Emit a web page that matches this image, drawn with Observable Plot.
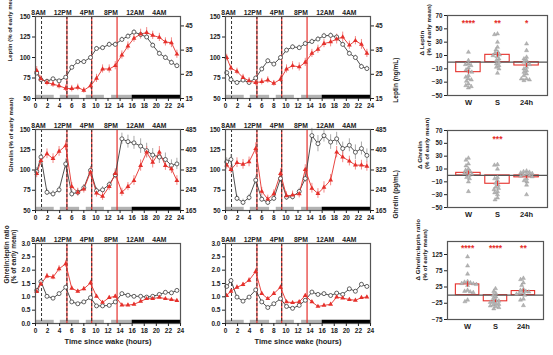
<!DOCTYPE html>
<html><head><meta charset="utf-8">
<script src="https://cdn.jsdelivr.net/npm/d3@7"></script>
<script src="https://cdn.jsdelivr.net/npm/@observablehq/plot@0.6"></script>
<style>
body{margin:0;background:#fff;}
#fig{position:relative;width:553px;height:355px;overflow:hidden;}
</style></head><body><div id="fig"></div>
<script>
// ---- shared time axis ----
const hours = [0.2, 0.9, 1.9, 2.9, 3.9, 5.0, 6.0, 7.0, 8.0, 9.1, 10.1, 11.1, 12.2, 13.2, 14.3, 15.3, 16.3, 17.4, 18.4, 19.4, 20.5, 21.5, 22.5, 23.4];
const clockLabels = ["8AM", "12PM", "4PM", "8PM", "12AM", "4AM"];
const clockHours = [0.5, 4.5, 8.5, 12.5, 16.5, 20.5];
const mealLines = [5.2, 9.3, 13.5];
const dashedLines = [1.0, 5.2, 9.3];
const blockStart = [0.1, 4.1, 8.4, 12.6, 16];
const blockEnd = [3.1, 7.3, 11.4, 16, 24];
const blockKind = ["wake", "wake", "wake", "wake", "sleep"];

// ---- leptin (% of early mean) ----
const leptinBlkA = [81, 73, 71, 74, 71.5, 76, 88, 95, 95, 100, 111, 112, 116, 116, 122, 126, 131, 128, 125, 115, 105, 100, 94, 90];
const leptinBlkErrA = [2, 2, 2, 2, 2, 2, 2.5, 2.5, 2.5, 2.5, 2.5, 2.5, 3, 3, 3, 3, 3, 3, 3, 3, 3, 3, 3, 3];
const leptinRedA = [84, 74, 69.5, 67.5, 65.5, 62.5, 62, 63.5, 60, 65.5, 74.5, 86, 86, 90, 103, 114, 123.5, 128.5, 130.5, 127, 124.5, 119, 118, 104];
const leptinRedErrA = [5, 4, 4, 4, 4, 4, 4, 4, 3.5, 4, 5, 5, 5, 5, 5, 5, 5, 6, 6, 5, 5, 5, 6, 5];
const leptinBlkB = [81.5, 73, 69.5, 72.5, 69.5, 75, 86, 96, 92, 100, 109, 113, 112, 117, 119.5, 122.5, 126.5, 127, 125, 116, 105, 100, 89, 86.5];
const leptinBlkErrB = [2, 2, 2, 2, 2, 2, 2.5, 2.5, 2.5, 2.5, 2.5, 2.5, 3, 3, 3, 3, 3, 3, 3, 3, 3, 3, 3, 3];
const leptinRedB = [100, 87, 83, 75.5, 71.5, 69.5, 70.5, 72.5, 68.5, 73.5, 86, 90, 88.5, 94, 105, 110, 117, 119, 122.5, 125, 115, 120.5, 116, 105];
const leptinRedErrB = [4, 4, 4, 4, 4, 4, 4, 4, 3.5, 4, 5, 5, 5, 5, 5, 5, 5, 6, 6, 6, 5, 5, 6, 5];
const leptinTicks = [50, 75, 100, 125, 150];
const leptinNgTicks = [15, 25, 35, 45];
const leptinNgExtent = [15, 48.9];

// ---- ghrelin (% of early mean) ----
const ghrelinBlkD = [98, 116, 72.5, 70.5, 75.5, 107.5, 70.5, 72.5, 78, 99.5, 74.5, 75.5, 82, 94, 138.5, 135, 133.5, 129.5, 124, 118.5, 116, 113, 105.5, 107.5];
const ghrelinBlkErrD = [5, 6, 4, 4, 4, 6, 4, 4, 4, 5, 4, 4, 4, 5, 7, 8, 8, 9, 9, 8, 8, 8, 7, 7];
const ghrelinRedD = [95.5, 111.5, 120, 114, 123, 130, 79.5, 72.5, 76.5, 97.5, 71.5, 67.5, 79.5, 95.5, 72.5, 79.5, 87, 105.5, 122, 109.5, 122, 105.5, 101.5, 87];
const ghrelinRedErrD = [5, 6, 6, 6, 6, 6, 5, 5, 5, 6, 5, 5, 5, 6, 5, 5, 6, 7, 7, 7, 7, 6, 6, 6];
const ghrelinBlkE = [110, 113, 65, 60, 66, 87.5, 64, 60, 65, 89.5, 66.5, 67, 73.5, 89.5, 142.5, 132.5, 142.5, 134.5, 138.5, 126.5, 130.5, 122, 126.5, 118];
const ghrelinBlkErrE = [5, 6, 4, 4, 4, 5, 4, 4, 4, 5, 4, 4, 4, 5, 9, 10, 8, 9, 8, 8, 8, 9, 8, 8];
const ghrelinRedE = [106, 100.5, 109, 107, 110, 126.5, 73.5, 64, 70.5, 95.5, 68, 69, 70.5, 100.5, 77.5, 71, 78.5, 87.5, 122, 116, 111, 106, 106, 104.5];
const ghrelinRedErrE = [5, 5, 6, 6, 6, 7, 5, 5, 5, 6, 5, 5, 5, 6, 6, 6, 7, 7, 7, 7, 6, 6, 6, 6];
const ghrelinTicks = [50, 75, 100, 125, 150];
const ghrelinPgTicks = [165, 245, 325, 405, 485];
const ghrelinPgExtent = [165, 485];

// ---- ghrelin:leptin ratio ----
const ratioBlkG = [1.24, 1.57, 1.02, 0.95, 1.12, 1.36, 0.81, 0.74, 0.81, 0.97, 0.66, 0.66, 0.68, 0.81, 1.12, 1.06, 1.02, 1.02, 0.99, 1.02, 1.09, 1.17, 1.15, 1.24];
const ratioBlkErrG = [0.06, 0.08, 0.05, 0.05, 0.05, 0.07, 0.04, 0.04, 0.04, 0.05, 0.04, 0.04, 0.04, 0.05, 0.05, 0.05, 0.05, 0.05, 0.05, 0.05, 0.05, 0.06, 0.06, 0.06];
const ratioRedG = [1.2, 1.49, 1.78, 1.74, 2.05, 2.24, 1.32, 1.21, 1.3, 1.52, 1.02, 0.79, 0.97, 1.02, 0.69, 0.69, 0.72, 0.83, 0.93, 0.93, 0.98, 0.93, 0.9, 0.86];
const ratioRedErrG = [0.07, 0.1, 0.1, 0.1, 0.12, 0.13, 0.08, 0.07, 0.08, 0.1, 0.07, 0.06, 0.06, 0.07, 0.05, 0.05, 0.05, 0.05, 0.06, 0.06, 0.06, 0.05, 0.05, 0.05];
const ratioBlkH = [1.39, 1.61, 0.99, 0.84, 0.99, 1.26, 0.81, 0.6, 0.74, 0.93, 0.64, 0.57, 0.68, 0.87, 1.18, 1.09, 1.12, 1.05, 1.14, 1.09, 1.3, 1.21, 1.47, 1.39];
const ratioBlkErrH = [0.06, 0.08, 0.05, 0.05, 0.05, 0.06, 0.04, 0.04, 0.04, 0.05, 0.04, 0.04, 0.04, 0.05, 0.05, 0.05, 0.05, 0.05, 0.06, 0.06, 0.06, 0.06, 0.07, 0.07];
const ratioRedH = [1.05, 1.21, 1.36, 1.46, 1.62, 1.95, 1.12, 0.93, 1.12, 1.36, 0.81, 0.78, 0.81, 1.05, 0.81, 0.64, 0.68, 0.72, 0.99, 0.95, 0.9, 0.87, 0.97, 0.99];
const ratioRedErrH = [0.06, 0.07, 0.08, 0.08, 0.09, 0.1, 0.07, 0.06, 0.07, 0.08, 0.05, 0.05, 0.05, 0.06, 0.05, 0.04, 0.04, 0.05, 0.06, 0.05, 0.05, 0.05, 0.05, 0.05];
const ratioTicks = [0, 0.5, 1, 1.5, 2, 2.5, 3];

// ---- change from early mean (strip panels) ----
const stripGroups = ["W", "S", "24h"];
const dLeptinW = [15, 2.5, -2.5, -3.5, -5, -8.5, -11.5, -13.5, -15, -20, -22.5, -25, -26.5, -28.5, -32.5, -35, -38.5, -36.5];
const dLeptinS = [42.5, 41.5, 30, 22.5, 18.5, 15, 13.5, 11, 10, 8.5, 5, 2.5, 0, -2.5, -5, -7.5, -10, -16.5];
const dLeptin24 = [27.5, 17.5, 7.5, 5, 2.5, 0, -2.5, -3.5, -7.5, -10, -12.5, -15, -17.5, -20, -25, -27.5, -26.5, -25];
const dLeptinMeans = [-15, 11, -5];
const dLeptinSE = [3, 3.5, 3];
const dLeptinStars = ["****", "**", "*"];
const dGhrelinW = [27, 24, 18, 15, 10, 8, 6, 4, 3, 2, 0, -3, -5, -10, -25];
const dGhrelinS = [17, 16, 10, -3, -5, -8, -12, -15, -18, -20, -22, -25, -27, -30, -35, -38];
const dGhrelin24 = [7, 6, 5, 4, 3, 2, 1, 0, -1, -2, -5, -8, -10, -15, -30];
const dGhrelinMeans = [4, -13, -3];
const dGhrelinSE = [3, 4, 2];
const dGhrelinStars = ["", "***", ""];
const dRatioW = [118, 90, 65, 42, 40, 38, 36, 35, 33, 30, 15, 12, 10, 8, -15, -20];
const dRatioS = [20, 12, 5, 0, -5, -10, -15, -18, -20, -22, -25, -28, -30, -33, -35, -38, -42];
const dRatio24 = [52, 48, 38, 30, 18, 15, 12, 10, 8, 6, 3, 0, -12, -15, -32];
const dRatioMeans = [33, -19, 12.5];
const dRatioSE = [8, 4, 6];
const dRatioStars = ["****", "****", "**"];
const dLeptinTicks = [-50, -30, -10, 10, 30, 50, 70];
const dGhrelinTicks = [-50, -30, -10, 10, 30, 50, 70];
const dRatioTicks = [-75, -25, 25, 75, 125];

// ---- styling ----
const RED = "#e5302b", RED_ERR = "#f07b78", DARK = "#3c3c3c", GRAY_ERR = "#a0a0a0", FRAME = "#555";
const FONT = '"Liberation Sans", Arial, Helvetica, sans-serif';
const baseStyle = {fontFamily: FONT, fontWeight: "bold", fontSize: "7px", background: "transparent", overflow: "visible", color: "#222"};

function place(el, left, top) {
  el.style.position = "absolute";
  el.style.left = left + "px";
  el.style.top = top + "px";
  document.getElementById("fig").appendChild(el);
}

function timePanel(o) {
  const ser = (vals, errs) => hours.map((h, i) => ({h, v: vals[i], e: errs[i]}));
  const blk = ser(o.blk, o.blkErr), red = ser(o.red, o.redErr);
  const blocks = blockStart.map((s, i) => ({s, e: blockEnd[i], k: blockKind[i]}));
  const [y0] = o.ydomain;
  const marks = [
    Plot.ruleY(blocks, {x1: "s", x2: "e", y: () => y0, dy: -2, strokeWidth: 3.4, stroke: d => d.k === "sleep" ? "#000" : "#b3b3b3"}),
    Plot.ruleX(mealLines, {stroke: RED, strokeWidth: 1.2}),
    Plot.ruleX(dashedLines, {stroke: "#333", strokeWidth: 1, strokeDasharray: "3,2"}),
    Plot.ruleX(blk, {x: "h", y1: d => d.v - d.e, y2: d => d.v + d.e, stroke: GRAY_ERR, strokeWidth: 0.9}),
    Plot.ruleX(red, {x: "h", y1: d => d.v - d.e, y2: d => d.v + d.e, stroke: RED_ERR, strokeWidth: 0.9}),
    Plot.line(blk, {x: "h", y: "v", stroke: DARK, strokeWidth: 0.9}),
    Plot.line(red, {x: "h", y: "v", stroke: RED, strokeWidth: 0.9}),
    Plot.dot(blk, {x: "h", y: "v", r: 2, fill: "white", stroke: DARK, strokeWidth: 0.8}),
    Plot.dot(red, {x: "h", y: "v", r: 1.8, symbol: "triangle", fill: RED}),
    Plot.frame({stroke: FRAME, strokeWidth: 1.2}),
    Plot.axisX({ticks: d3.range(0, 25, 2), tickSize: 3, tickPadding: 1.5, label: null, fontSize: 6.5}),
    Plot.axisY({ticks: o.yticks, tickSize: 3, tickPadding: 2, label: null, fontSize: 6.5}),
    Plot.text(clockLabels, {x: (d, i) => clockHours[i], frameAnchor: "top", dy: -6, fontSize: 6.8})
  ];
  if (o.ylabel) marks.push(Plot.text([o.ylabel], {frameAnchor: "left", dx: o.ylabelDx, dy: o.ylabelDy || 0, rotate: -90, fontSize: o.ylabelSize || 6.5, lineHeight: 1.05}));
  if (o.right) {
    const toLeft = d3.scaleLinear().domain(o.right.extent).range(o.ydomain);
    marks.push(Plot.axisY(o.right.ticks.map(toLeft), {anchor: "right", tickSize: 3, tickPadding: 2, label: null, fontSize: 6.5,
      tickFormat: v => String(Math.round(toLeft.invert(v)))}));
    if (o.right.label) marks.push(Plot.text([o.right.label], {frameAnchor: "right", dx: 25, rotate: -90, fontSize: 6.5}));
  }
  if (o.xlabel) marks.push(Plot.text([o.xlabel], {frameAnchor: "bottom", dy: 20, fontSize: 7.5}));
  const el = Plot.plot({
    width: o.width, height: o.height,
    marginLeft: o.ml, marginRight: o.mr, marginTop: o.mt, marginBottom: o.mb,
    x: {domain: [0, 24], label: null},
    y: {domain: o.ydomain, label: null},
    style: baseStyle,
    marks
  });
  place(el, o.left, o.top);
}

function stripPanel(o) {
  const xMin = -0.72, xMax = 2.72;
  const unit = (o.width - o.ml - o.mr) / (xMax - xMin);
  const bars = stripGroups.map((g, i) => ({i, m: o.means[i], se: o.ses[i], s: o.stars[i]}));
  const marks = [
    Plot.rect(bars, {x1: d => d.i - 0.42, x2: d => d.i + 0.42, y1: 0, y2: "m", fill: "none", stroke: RED, strokeWidth: 1.1}),
    Plot.ruleY([0], {stroke: FRAME, strokeWidth: 1.1}),
    ...o.vals.map((vs, i) => Plot.dot(vs, Plot.dodgeX({anchor: "middle", padding: 0},
      {y: d => d, r: 1.55, symbol: "triangle", fill: "#b4b4b4", stroke: "#909090", strokeWidth: 0.35, dx: (i - 1) * unit}))),
    Plot.ruleX(bars, {x: "i", y1: d => d.m - d.se, y2: d => d.m + d.se, stroke: RED, strokeWidth: 1}),
    Plot.text(bars, {x: "i", y: () => o.starY, text: "s", fill: RED, fontSize: 8.5}),
    Plot.frame({stroke: FRAME, strokeWidth: 1.2}),
    Plot.axisY({ticks: o.yticks, tickSize: 3, tickPadding: 2, label: null, fontSize: 6.3}),
    Plot.axisX({ticks: [0, 1, 2], tickSize: 0, tickPadding: 4, label: null, fontSize: 7.5, tickFormat: i => stripGroups[i]}),
    Plot.text([o.ylabel], {frameAnchor: "left", dx: o.ylabelDx, rotate: -90, fontSize: 6.2, lineHeight: 1.1})
  ];
  const el = Plot.plot({
    width: o.width, height: o.height,
    marginLeft: o.ml, marginRight: o.mr, marginTop: o.mt, marginBottom: o.mb,
    x: {domain: [xMin, xMax], label: null},
    y: {domain: o.ydomain, label: null},
    style: baseStyle,
    marks
  });
  place(el, o.left, o.top);
}

// Row 1
timePanel({left: 0, top: 0, width: 200, height: 112, ml: 35, mr: 20, mt: 16, mb: 14,
  ydomain: [50, 150], yticks: leptinTicks, blk: leptinBlkA, blkErr: leptinBlkErrA, red: leptinRedA, redErr: leptinRedErrA,
  ylabel: "Leptin (% of early mean)", ylabelDx: -26, ylabelDy: 4, ylabelSize: 6, right: {ticks: leptinNgTicks, extent: leptinNgExtent}});
timePanel({left: 180, top: 0, width: 225, height: 112, ml: 45, mr: 35, mt: 16, mb: 14,
  ydomain: [50, 150], yticks: leptinTicks, blk: leptinBlkB, blkErr: leptinBlkErrB, red: leptinRedB, redErr: leptinRedErrB,
  ylabel: null, right: {ticks: leptinNgTicks, extent: leptinNgExtent, label: "Leptin (ng/mL)"}});
stripPanel({left: 380, top: 0, width: 173, height: 110, ml: 67, mr: 6, mt: 15, mb: 15,
  ydomain: [-50, 70], yticks: dLeptinTicks, vals: [dLeptinW, dLeptinS, dLeptin24], means: dLeptinMeans, ses: dLeptinSE,
  stars: dLeptinStars, starY: 58, ylabel: "Δ Leptin\n(% of early mean)", ylabelDx: -22});

// Row 2
timePanel({left: 0, top: 113, width: 200, height: 112, ml: 35, mr: 20, mt: 16, mb: 15,
  ydomain: [50, 150], yticks: ghrelinTicks, blk: ghrelinBlkD, blkErr: ghrelinBlkErrD, red: ghrelinRedD, redErr: ghrelinRedErrD,
  ylabel: "Ghrelin (% of early mean)", ylabelDx: -25, ylabelDy: 2, ylabelSize: 6.2, right: {ticks: ghrelinPgTicks, extent: ghrelinPgExtent}});
timePanel({left: 180, top: 113, width: 225, height: 112, ml: 45, mr: 35, mt: 16, mb: 15,
  ydomain: [50, 150], yticks: ghrelinTicks, blk: ghrelinBlkE, blkErr: ghrelinBlkErrE, red: ghrelinRedE, redErr: ghrelinRedErrE,
  ylabel: null, right: {ticks: ghrelinPgTicks, extent: ghrelinPgExtent, label: "Ghrelin (pg/mL)"}});
stripPanel({left: 380, top: 115, width: 173, height: 110, ml: 67, mr: 6, mt: 15, mb: 18,
  ydomain: [-50, 70], yticks: dGhrelinTicks, vals: [dGhrelinW, dGhrelinS, dGhrelin24], means: dGhrelinMeans, ses: dGhrelinSE,
  stars: dGhrelinStars, starY: 56, ylabel: "Δ Ghrelin\n(% of early mean)", ylabelDx: -24});

// Row 3
timePanel({left: 0, top: 227, width: 200, height: 128, ml: 35, mr: 20, mt: 16, mb: 32,
  ydomain: [0, 3], yticks: ratioTicks, blk: ratioBlkG, blkErr: ratioBlkErrG, red: ratioRedG, redErr: ratioRedErrG,
  ylabel: "Ghrelin:leptin ratio\n(% of early mean)", ylabelDx: -25.5, xlabel: "Time since wake (hours)"});
timePanel({left: 180, top: 227, width: 225, height: 128, ml: 45, mr: 35, mt: 16, mb: 32,
  ydomain: [0, 3], yticks: ratioTicks, blk: ratioBlkH, blkErr: ratioBlkErrH, red: ratioRedH, redErr: ratioRedErrH,
  ylabel: null, xlabel: "Time since wake (hours)"});
stripPanel({left: 380, top: 226, width: 173, height: 110, ml: 67, mr: 10, mt: 15, mb: 17,
  ydomain: [-75, 165], yticks: dRatioTicks, vals: [dRatioW, dRatioS, dRatio24], means: dRatioMeans, ses: dRatioSE,
  stars: dRatioStars, starY: 143, ylabel: "Δ Ghrelin:leptin ratio\n(% of early mean)", ylabelDx: -26});
</script></body></html>
